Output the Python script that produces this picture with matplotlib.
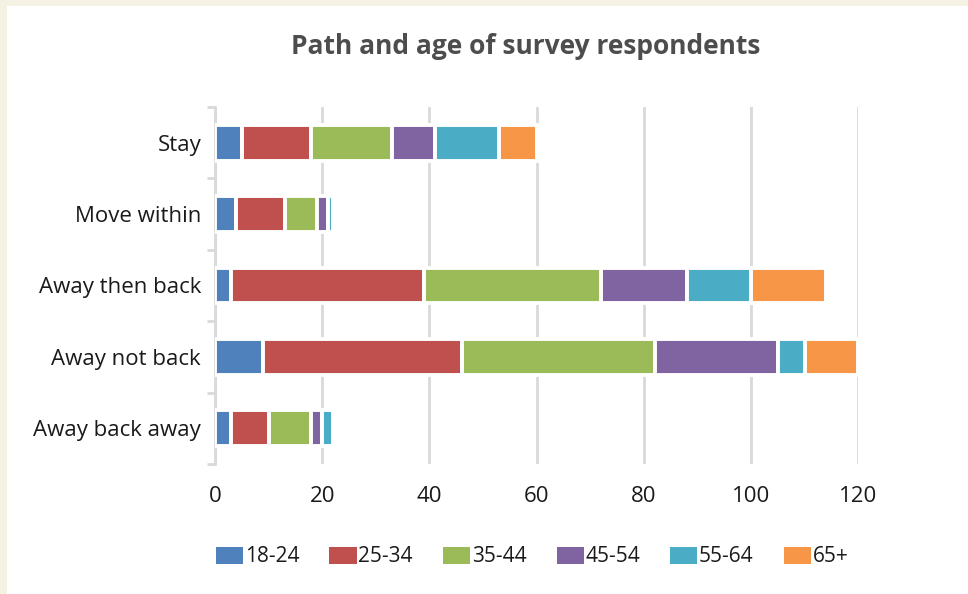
import numpy as np
import matplotlib
matplotlib.use("Agg")
import matplotlib.pyplot as plt
from matplotlib.patches import Patch, Rectangle

plt.rcParams['font.family'] = ['Open Sans', 'DejaVu Sans']

# survey counts per path, split by age band
paths = ["Stay", "Move within", "Away then back", "Away not back", "Away back away"]
age_bands = ["18-24", "25-34", "35-44", "45-54", "55-64", "65+"]
a18_24 = [5, 4, 3, 9, 3]
a25_34 = [13, 9, 36, 37, 7]
a35_44 = [15, 6, 33, 36, 8]
a45_54 = [8, 2, 16, 23, 2]
a55_64 = [12, 1, 12, 5, 2]
a65_plus = [7, 0, 14, 10, 0]
series = [a18_24, a25_34, a35_44, a45_54, a55_64, a65_plus]
colors = ["#4f81bd", "#c0504d", "#9bbb59", "#8064a2", "#4bacc6", "#f79646"]
x_ticks = [0, 20, 40, 60, 80, 100, 120]

W, H = 968, 594
fig = plt.figure(figsize=(W / 100, H / 100), dpi=100, facecolor="white")

# cream frame strips at top and left
fig.add_artist(Rectangle((0, 0), 7 / W, 1, transform=fig.transFigure,
                         facecolor="#f6f2e3", edgecolor="none", zorder=0))
fig.add_artist(Rectangle((0, 1 - 6 / H), 1, 6 / H, transform=fig.transFigure,
                         facecolor="#f6f2e3", edgecolor="none", zorder=0))

ax = fig.add_axes([215 / W, 1 - 464 / H, (858.3 - 215) / W, (464 - 107) / H])
ax.set_facecolor("white")

y = np.arange(len(paths))
left = np.zeros(len(paths))
for vals, col, lab in zip(series, colors, age_bands):
    vals = np.array(vals, dtype=float)
    ax.barh(y, vals, left=left, height=0.5, color=col, edgecolor="white",
            linewidth=2.8, label=lab, zorder=3)
    left += vals

ax.set_xlim(0, 120)
ax.set_ylim(len(paths) - 0.5, -0.5)
ax.set_xticks(x_ticks)
ax.set_xticklabels([str(t) for t in x_ticks])
ax.set_yticks(y)
ax.set_yticklabels(paths)
ax.set_yticks(np.arange(-0.5, len(paths), 1), minor=True)

ax.xaxis.grid(True, color="#d9d9d9", linewidth=2, zorder=0)
ax.set_axisbelow(True)
for s in ["top", "right", "bottom"]:
    ax.spines[s].set_visible(False)
ax.spines["left"].set_color("#d9d9d9")
ax.spines["left"].set_linewidth(2)

ax.tick_params(axis="x", length=0, pad=15.5, labelsize=16, labelcolor="#1a1a1a")
ax.tick_params(axis="y", which="major", length=0, pad=10, labelsize=16,
               labelcolor="#1a1a1a")
ax.tick_params(axis="y", which="minor", length=6, width=2, color="#d9d9d9")

fig.text(526 / W, 1 - 47 / H, "Path and age of survey respondents",
         ha="center", va="center", fontsize=19, fontweight="bold", color="#4d4d4d")

handles = [Patch(facecolor=c, edgecolor="none") for c in colors]
fig.legend(handles, age_bands, loc="center left",
           bbox_to_anchor=(216 / W, 1 - 557 / H), ncol=6, frameon=False,
           fontsize=15, handlelength=1.3, handleheight=0.91,
           handletextpad=0.08, columnspacing=1.45, borderpad=0, borderaxespad=0,
           labelcolor="#1a1a1a")

fig.savefig("out.png", dpi=100, facecolor="white")
